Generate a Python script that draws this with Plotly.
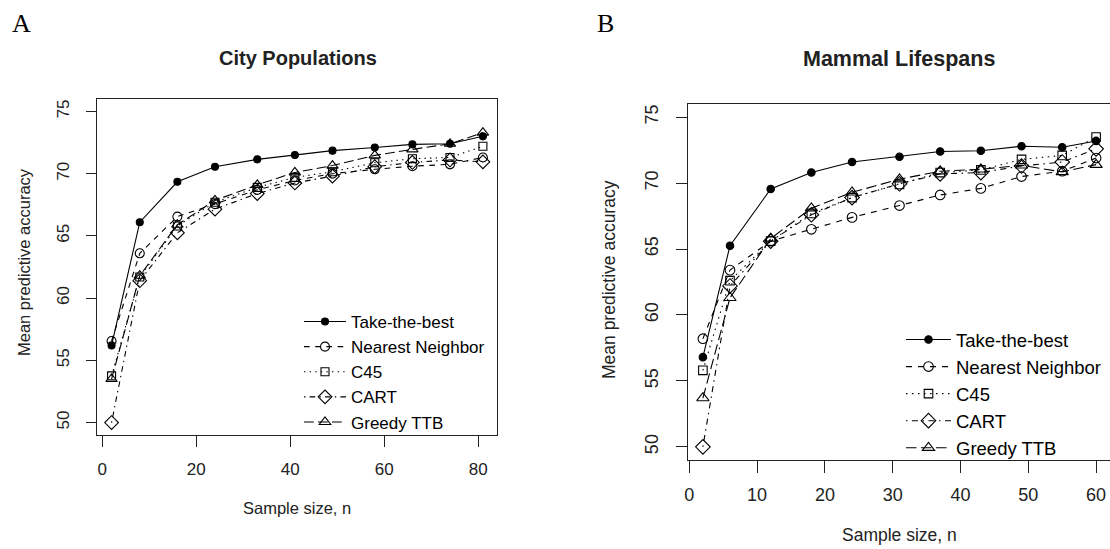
import plotly.graph_objects as go

W, H = 1110, 549

# ---------------- data ----------------
series_names = ["Take-the-best", "Nearest Neighbor", "C45", "CART", "Greedy TTB"]

city_n = [2, 8, 16, 24, 33, 41, 49, 58, 66, 74, 81]
city_ttb = [56.2, 66.1, 69.35, 70.55, 71.15, 71.5, 71.85, 72.1, 72.35, 72.4, 73.0]
city_nn = [56.55, 63.6, 66.55, 67.55, 68.7, 69.45, 70.0, 70.35, 70.6, 70.75, 71.3]
city_c45 = [53.75, 61.7, 65.8, 67.7, 68.9, 69.7, 70.15, 70.88, 71.2, 71.3, 72.2]
city_cart = [50.0, 61.4, 65.25, 67.15, 68.4, 69.25, 69.8, 70.56, 70.9, 71.1, 70.95]
city_greedy = [53.5, 61.8, 65.9, 67.85, 69.1, 70.1, 70.65, 71.47, 71.95, 72.4, 73.3]

mam_n = [2, 6, 12, 18, 24, 31, 37, 43, 49, 55, 60]
mam_ttb = [56.8, 65.25, 69.55, 70.8, 71.6, 72.0, 72.4, 72.45, 72.8, 72.72, 73.2]
mam_nn = [58.2, 63.4, 65.6, 66.5, 67.4, 68.3, 69.1, 69.6, 70.5, 70.9, 71.9]
mam_c45 = [55.8, 62.6, 65.6, 67.7, 68.9, 69.9, 70.8, 71.0, 71.8, 72.1, 73.5]
mam_cart = [50.0, 62.2, 65.6, 67.6, 68.9, 69.95, 70.7, 70.8, 71.3, 71.6, 72.6]
mam_greedy = [53.7, 61.3, 65.8, 68.1, 69.3, 70.3, 70.9, 71.05, 71.35, 70.85, 71.4]

x_ticks_city = [0, 20, 40, 60, 80]
x_ticks_mam = [0, 10, 20, 30, 40, 50, 60]
y_ticks = [50, 55, 60, 65, 70, 75]

# ---------------- styles ----------------
FONT = "Liberation Sans"
SERIF = "Liberation Serif"
INK = "#222222"

def styles(scale):
    u = 1.4 * scale
    return [
        dict(dash="solid", symbol="circle", size=7 * scale),
        dict(dash=f"{4*u:.1f}px,{4*u:.1f}px", symbol="circle-open", size=9 * scale),
        dict(dash=f"{1*u:.1f}px,{3*u:.1f}px", symbol="square-open", size=8 * scale),
        dict(dash=f"{1*u:.1f}px,{3*u:.1f}px,{4*u:.1f}px,{3*u:.1f}px", symbol="diamond-open", size=10.5 * scale),
        dict(dash=f"{7*u:.1f}px,{3*u:.1f}px", symbol="triangle-up-open", size=10 * scale),
    ]

def px(x):
    return x / W

def py(y):
    return 1 - y / H

fig = go.Figure()

panels = [
    ("x", "y", "legend", city_n, [city_ttb, city_nn, city_c45, city_cart, city_greedy], 1.0),
    ("x2", "y2", "legend2", mam_n, [mam_ttb, mam_nn, mam_c45, mam_cart, mam_greedy], 1.07),
]

for xa, ya, lg, xs, ys_list, sc in panels:
    st = styles(sc)
    for name, ys, s in zip(series_names, ys_list, st):
        fig.add_trace(go.Scatter(
            x=xs, y=ys, name=name, mode="lines+markers",
            xaxis=xa, yaxis=ya, legend=lg,
            line=dict(color="black", width=1.1, dash=s["dash"]),
            marker=dict(symbol=s["symbol"], size=s["size"], color="black",
                        line=dict(color="black", width=1.1)),
        ))

axis_common = dict(
    showgrid=False, zeroline=False, showline=True, linecolor=INK, linewidth=1.2,
    ticks="outside", tickcolor=INK, tickwidth=1.1, color=INK,
)

fig.update_layout(
    width=W, height=H,
    margin=dict(l=0, r=0, t=0, b=0, autoexpand=False),
    paper_bgcolor="white", plot_bgcolor="white",
    font=dict(family=FONT, color=INK),
    xaxis=dict(domain=[px(97), px(497)], range=[-1.1, 84.0], tickvals=x_ticks_city,
               anchor="y", mirror=True, ticklen=11, tickfont=dict(size=17),
               ticklabelstandoff=7, **axis_common),
    yaxis=dict(domain=[py(435), py(99)], range=[49, 76], tickvals=y_ticks,
               anchor="x", mirror=True, ticklen=10, tickangle=-90,
               tickfont=dict(size=17), ticklabelstandoff=10, **axis_common),
    xaxis2=dict(domain=[px(687.7), 1.0], range=[-0.24, 62.05], tickvals=x_ticks_mam,
                anchor="y2", mirror=True, ticklen=11.5, tickfont=dict(size=18),
                ticklabelstandoff=7, **axis_common),
    yaxis2=dict(domain=[py(460), py(104)], range=[49, 76], tickvals=y_ticks,
                anchor="x2", mirror=False, ticklen=10.5, tickangle=-90,
                tickfont=dict(size=18), ticklabelstandoff=11, **axis_common),
    legend=dict(x=px(299), y=py(372), xanchor="left", yanchor="middle",
                bgcolor="rgba(0,0,0,0)", borderwidth=0, itemwidth=42,
                font=dict(size=17, family=FONT, color="black"), tracegroupgap=0),
    legend2=dict(x=px(901), y=py(394), xanchor="left", yanchor="middle",
                 bgcolor="rgba(0,0,0,0)", borderwidth=0, itemwidth=45,
                 font=dict(size=18.5, family=FONT, color="black"), tracegroupgap=0),
)

annotations = [
    dict(text="A", x=px(21), y=py(23), font=dict(family=SERIF, size=26, color="black")),
    dict(text="B", x=px(605), y=py(23), font=dict(family=SERIF, size=26, color="black")),
    dict(text="<b>City Populations</b>", x=px(297.5), y=py(58),
         font=dict(family=FONT, size=20, color=INK)),
    dict(text="<b>Mammal Lifespans</b>", x=px(899), y=py(59),
         font=dict(family=FONT, size=21.5, color=INK)),
    dict(text="Sample size, n", x=px(297), y=py(508), font=dict(family=FONT, size=16.5, color=INK)),
    dict(text="Sample size, n", x=px(899), y=py(535), font=dict(family=FONT, size=17.5, color=INK)),
    dict(text="Mean predictive accuracy", x=px(24), y=py(262), textangle=-90,
         font=dict(family=FONT, size=16.5, color=INK)),
    dict(text="Mean predictive accuracy", x=px(609), y=py(279), textangle=-90,
         font=dict(family=FONT, size=17.5, color=INK)),
]
for a in annotations:
    a.update(xref="paper", yref="paper", showarrow=False, xanchor="center", yanchor="middle")
fig.update_layout(annotations=annotations)

fig.write_html("out.html", config={"displayModeBar": False},
               post_script="document.body.style.margin='0px';")
